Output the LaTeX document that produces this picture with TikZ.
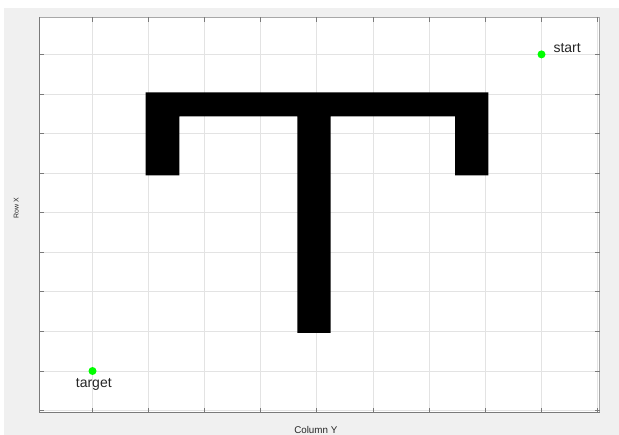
\documentclass[tikz,border=0pt]{standalone}
\usepackage{fontspec}
\setmainfont{Liberation Sans}
\usepackage{xcolor}
\usepackage{tikz}
\usetikzlibrary{positioning,calc}
\definecolor{figbg}{HTML}{F0F0F0}
\definecolor{gridc}{HTML}{E3E3E3}
\definecolor{axc}{HTML}{7A7A7A}
\definecolor{axlight}{HTML}{A8A8A8}
\definecolor{ink}{HTML}{262626}
\definecolor{mark}{HTML}{00FF00}
\tikzset{
  gridline/.style={draw=gridc,line width=0.6pt},
  axline/.style={draw=axc,line width=0.9pt},
  boxline/.style={draw=axlight,line width=0.7pt},
  tick/.style={draw=axc,line width=0.6pt},
  wall/.style={fill=black},
  dot/.style={circle,fill=mark,inner sep=0pt,minimum size=8pt},
  lbl/.style={inner sep=0pt,text=ink,font=\fontsize{14}{16}\selectfont},
  axlbl/.style={inner sep=0pt,text=ink,font=\fontsize{9.8}{11}\selectfont}
}

\begin{document}
\begin{tikzpicture}[x=1pt,y=-1pt]
 \useasboundingbox (0,0) rectangle (619,435);
 \fill[figbg] (4,8) rectangle (619,435);
 \fill[white] (39,17.5) rectangle (599.5,412.3);
 % grid
 \foreach \i in {0,...,9} {
   \draw[gridline] ({92.3+\i*56.1},17.5) -- ({92.3+\i*56.1},412.3);
   \draw[gridline] (39,{410.5-\i*39.57}) -- (599.5,{410.5-\i*39.57});
 }
 % obstacle
 \fill[wall] (145.5,92.5) -- (488.3,92.5) -- (488.3,175.3) -- (455,175.3) -- (455,116.5)
   -- (330.7,116.5) -- (330.7,333) -- (297.3,333) -- (297.3,116.5) -- (179.3,116.5)
   -- (179.3,175.3) -- (145.5,175.3) -- cycle;
 % axes box and ticks
 \draw[boxline] (39,17.5) -- (599.5,17.5) -- (599.5,412.3);
 \draw[axline] (39,17.5) -- (39,412.3) -- (599.5,412.3);
 \foreach \i in {0,...,9} {
   \draw[tick] ({92.3+\i*56.1},412.3) -- ++(0,-4.5);
   \draw[tick] ({92.3+\i*56.1},17.5) -- ++(0,4.5);
   \draw[tick] (39,{410.5-\i*39.57}) -- ++(4.5,0);
   \draw[tick] (599.5,{410.5-\i*39.57}) -- ++(-4.5,0);
 }
 % points
 \node[dot] (start) at (541.5,54.4) {};
 \node[dot] (target) at (92.5,371) {};
 \node[lbl,anchor=base west] (startlbl) at ([shift={(11.8pt,1.6pt)}]start.center) {start};
 \node[lbl,anchor=base] (targetlbl) at ([shift={(1.3pt,-16.3pt)}]target.center) {target};
 % axis labels
 \node[axlbl,anchor=base] (xlab) at (315.8,433.3) {Column Y};
 \node[axlbl,anchor=base,rotate=90,font=\fontsize{7}{8}\selectfont] (ylab) at (18.6,208) {Row X};
\end{tikzpicture}
\end{document}
